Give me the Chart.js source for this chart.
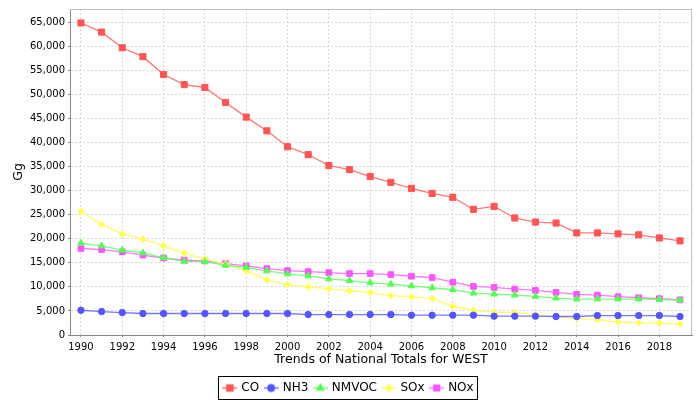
<!DOCTYPE html>
<html lang="en">
<head>
<meta charset="UTF-8">
<title>Trends of National Totals for WEST</title>
<script src="https://cdn.jsdelivr.net/npm/chart.js"></script>
<style>
  html, body { margin: 0; padding: 0; background: #fff; }
  #wrap { width: 700px; height: 400px; }
</style>
</head>
<body>
<div id="wrap"><canvas id="grafico"></canvas></div>
<script>
// values (Gg)
const anos = [1990, 1991, 1992, 1993, 1994, 1995, 1996, 1997, 1998, 1999,
              2000, 2001, 2002, 2003, 2004, 2005, 2006, 2007, 2008, 2009,
              2010, 2011, 2012, 2013, 2014, 2015, 2016, 2017, 2018, 2019];
const co = [64800, 62900, 59650, 57800, 54100, 52000, 51400, 48300, 45250, 42400,
            39100, 37450, 35200, 34350, 32900, 31700, 30450, 29400, 28600, 26100,
            26700, 24300, 23450, 23250, 21200, 21200, 21000, 20800, 20150, 19550];
const nh3 = [5140, 4870, 4660, 4460, 4460, 4460, 4460, 4460, 4460, 4460,
             4460, 4250, 4250, 4250, 4250, 4250, 4110, 4110, 4110, 4110,
             3910, 3910, 3910, 3840, 3840, 4040, 4040, 4040, 4040, 3840];
const nmvoc = [19070, 18510, 17630, 17070, 16040, 15290, 15220, 14460, 14050, 13300,
               12690, 12280, 11660, 11310, 10840, 10560, 10220, 9810, 9400, 8700,
               8500, 8290, 8020, 7670, 7470, 7470, 7470, 7470, 7400, 7260];
const sox = [25650, 22970, 20980, 19890, 18510, 17010, 15770, 14740, 13300, 11450,
             10430, 10010, 9600, 9190, 8780, 8160, 7960, 7550, 5970, 5140,
             4730, 4660, 4250, 3700, 3430, 3150, 2740, 2530, 2530, 2330];
const nox = [17960, 17750, 17280, 16600, 15980, 15570, 15370, 14810, 14340, 13780,
             13370, 13160, 12960, 12750, 12750, 12550, 12200, 11930, 10960, 10080,
             9870, 9530, 9260, 8850, 8430, 8290, 7960, 7750, 7550, 7300];

const xTicks = [1990, 1992, 1994, 1996, 1998, 2000, 2002, 2004, 2006, 2008,
                2010, 2012, 2014, 2016, 2018];
const yTicks = [0, 5000, 10000, 15000, 20000, 25000, 30000, 35000, 40000, 45000,
                50000, 55000, 60000, 65000];

const fonte = 'DejaVu Sans';

const series = [
  { nome: 'CO',    valores: co,    cor: '#ff5555', linha: 'rgba(255,85,85,0.8)',  estilo: 'rect',     raio: 4.3 },
  { nome: 'NH3',   valores: nh3,   cor: '#5555ff', linha: 'rgba(85,85,255,0.8)',  estilo: 'circle',   raio: 3.2 },
  { nome: 'NMVOC', valores: nmvoc, cor: '#55ff55', linha: 'rgba(85,255,85,0.8)',  estilo: 'triangle', raio: 3.8 },
  { nome: 'SOx',   valores: sox,   cor: '#ffff55', linha: 'rgba(255,255,85,0.9)', estilo: 'rectRot',  raio: 3.2 },
  { nome: 'NOx',   valores: nox,   cor: '#ff55ff', linha: 'rgba(255,85,255,0.8)', estilo: 'rect',     raio: 4 }
];

// little "line + marker" icons for the legend
function iconeLegenda(s) {
  const c = document.createElement('canvas');
  c.width = 15; c.height = 11;
  const g = c.getContext('2d');
  g.strokeStyle = s.linha; g.lineWidth = 1.5;
  g.beginPath(); g.moveTo(0, 5.5); g.lineTo(15, 5.5); g.stroke();
  g.fillStyle = s.cor; g.strokeStyle = s.cor;
  Chart.helpers.drawPoint(g, { pointStyle: s.estilo, radius: s.raio, rotation: 0, borderWidth: 1 }, 7.5, 5.5);
  return c;
}
const icones = series.map(iconeLegenda);

const moldura = {
  id: 'moldura',
  beforeDatasetsDraw(chart) {
    const a = chart.chartArea, ctx = chart.ctx;
    ctx.save();
    ctx.strokeStyle = '#c0c0c0'; ctx.lineWidth = 1;
    ctx.beginPath();
    ctx.moveTo(a.left, a.top + 0.5); ctx.lineTo(a.right - 0.5, a.top + 0.5); ctx.lineTo(a.right - 0.5, a.bottom);
    ctx.stroke();
    ctx.restore();
  },
  afterDraw(chart) {
    const caixas = chart.legend.legendHitBoxes;
    if (!caixas || !caixas.length) return;
    let x0 = Infinity, x1 = -Infinity, y0 = Infinity, y1 = -Infinity;
    caixas.forEach(b => {
      x0 = Math.min(x0, b.left); x1 = Math.max(x1, b.left + b.width);
      y0 = Math.min(y0, b.top); y1 = Math.max(y1, b.top + b.height);
    });
    const ctx = chart.ctx;
    ctx.save();
    ctx.strokeStyle = '#000'; ctx.lineWidth = 1;
    ctx.strokeRect(Math.round(x0 - 6) + 0.5, Math.round(y0 - 6) + 0.5, Math.round(x1 - x0 + 10), Math.round(y1 - y0 + 11));
    ctx.restore();
  }
};

const ctx = document.getElementById('grafico');

const grafico = new Chart(ctx, {
  type: 'line',
  data: {
    datasets: series.map(s => ({
      label: s.nome,
      data: anos.map((a, i) => ({ x: a, y: s.valores[i] })),
      borderColor: s.linha,
      backgroundColor: s.cor,
      pointBackgroundColor: s.cor,
      pointBorderColor: s.cor,
      pointBorderWidth: 1,
      pointStyle: s.estilo,
      pointRadius: s.raio,
      borderWidth: 1.3,
      tension: 0,
      fill: false
    }))
  },
  options: {
    responsive: true,
    maintainAspectRatio: false,
    animation: false,
    layout: { padding: { left: 6, right: 8, top: 4, bottom: -4 } },
    plugins: {
      tooltip: { enabled: false },
      legend: {
        position: 'bottom',
        labels: {
          usePointStyle: true,
          pointStyleWidth: 11,
          padding: 6.5,
          color: '#000',
          font: { family: fonte, size: 12 },
          generateLabels(chart) {
            const itens = Chart.defaults.plugins.legend.labels.generateLabels(chart);
            itens.forEach((it, i) => { it.pointStyle = icones[i]; });
            return itens;
          }
        }
      }
    },
    scales: {
      x: {
        type: 'linear',
        min: 1989.47,
        max: 2019.58,
        afterBuildTicks(scale) { scale.ticks = xTicks.map(v => ({ value: v })); },
        afterFit(scale) { scale.height = 40.5; },
        ticks: {
          color: '#000',
          font: { family: fonte, size: 10 },
          padding: 4,
          maxRotation: 0,
          callback: v => String(v)
        },
        grid: { color: '#d8d8d8', tickColor: '#888', tickLength: 2 },
        border: { color: '#888', dash: [2, 2] },
        title: { display: true, text: 'Trends of National Totals for WEST', color: '#000', font: { family: fonte, size: 12.5 }, padding: { top: 0, bottom: 8 } }
      },
      y: {
        min: 0,
        max: 67700,
        afterBuildTicks(scale) { scale.ticks = yTicks.map(v => ({ value: v })); },
        afterFit(scale) { scale.width = 64; },
        ticks: {
          color: '#000',
          font: { family: fonte, size: 10 },
          padding: 3,
          callback: v => v.toLocaleString('en-US')
        },
        grid: { color: '#d8d8d8', tickColor: '#888', tickLength: 2 },
        border: { color: '#888', dash: [2, 2] },
        title: { display: true, text: 'Gg', color: '#000', font: { family: fonte, size: 12.5 }, padding: { top: 5.5, bottom: 0 } }
      }
    }
  },
  plugins: [moldura]
});
</script>
</body>
</html>
